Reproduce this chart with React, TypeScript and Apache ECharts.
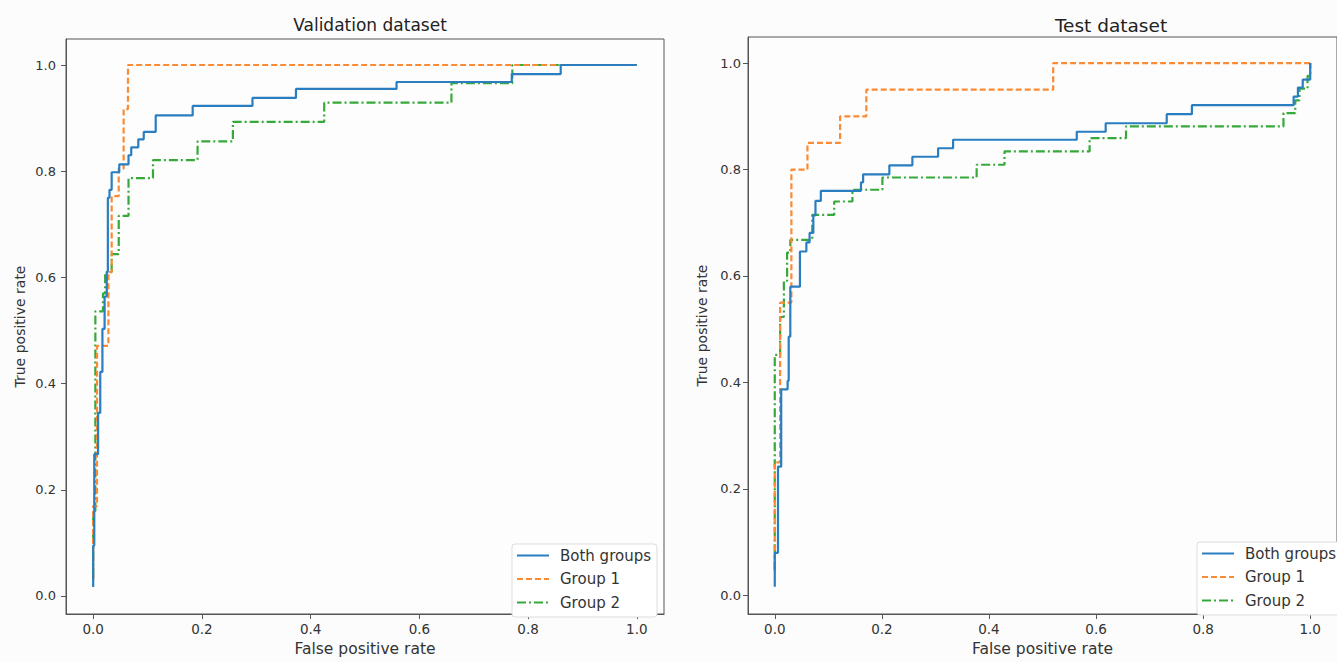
import React, { useEffect, useRef } from "react";
import * as echarts from "echarts";

// ---- data (corner points of the ROC step curves) ----
const seriesNames = ["Both groups", "Group 1", "Group 2"];
const titles = ["Validation dataset", "Test dataset"];
const tickValues = [0, 0.2, 0.4, 0.6, 0.8, 1.0];

const valBoth: number[][] = [
  [0, 0.017], [0, 0.095], [0.002, 0.095], [0.002, 0.267], [0.009, 0.267], [0.009, 0.345],
  [0.013, 0.345], [0.013, 0.422], [0.017, 0.422], [0.017, 0.503], [0.021, 0.503], [0.021, 0.564],
  [0.025, 0.564], [0.025, 0.61], [0.027, 0.61], [0.027, 0.75], [0.03, 0.75], [0.03, 0.765],
  [0.034, 0.765], [0.034, 0.798], [0.048, 0.798], [0.048, 0.813], [0.065, 0.813], [0.065, 0.83],
  [0.07, 0.83], [0.07, 0.845], [0.083, 0.845], [0.083, 0.86], [0.093, 0.86], [0.093, 0.874],
  [0.115, 0.874], [0.115, 0.905], [0.183, 0.905], [0.183, 0.923], [0.293, 0.923], [0.293, 0.938],
  [0.373, 0.938], [0.373, 0.955], [0.558, 0.955], [0.558, 0.968], [0.77, 0.968], [0.77, 0.983],
  [0.86, 0.983], [0.86, 1.0], [1.0, 1.0],
];
const valGroup1: number[][] = [
  [0, 0.03], [0, 0.169], [0.007, 0.169], [0.007, 0.471], [0.028, 0.471], [0.028, 0.61],
  [0.034, 0.61], [0.034, 0.753], [0.047, 0.753], [0.047, 0.805], [0.056, 0.805], [0.056, 0.917],
  [0.064, 0.917], [0.064, 1.0], [1.0, 1.0],
];
const valGroup2: number[][] = [
  [0, 0.035], [0, 0.16], [0.004, 0.16], [0.004, 0.536], [0.018, 0.536], [0.018, 0.57],
  [0.022, 0.57], [0.022, 0.61], [0.034, 0.61], [0.034, 0.644], [0.047, 0.644], [0.047, 0.716],
  [0.065, 0.716], [0.065, 0.787], [0.11, 0.787], [0.11, 0.821], [0.192, 0.821], [0.192, 0.856],
  [0.257, 0.856], [0.257, 0.893], [0.425, 0.893], [0.425, 0.929], [0.659, 0.929], [0.659, 0.966],
  [0.771, 0.966], [0.771, 1.0], [1.0, 1.0],
];

const testBoth: number[][] = [
  [0, 0.016], [0, 0.08], [0.006, 0.08], [0.006, 0.242], [0.012, 0.242], [0.012, 0.387],
  [0.024, 0.387], [0.024, 0.403], [0.026, 0.403], [0.026, 0.486], [0.029, 0.486], [0.029, 0.58],
  [0.047, 0.58], [0.047, 0.646], [0.059, 0.646], [0.059, 0.663], [0.065, 0.663], [0.065, 0.681],
  [0.072, 0.681], [0.072, 0.714], [0.076, 0.714], [0.076, 0.741], [0.086, 0.741], [0.086, 0.76],
  [0.161, 0.76], [0.161, 0.776], [0.165, 0.776], [0.165, 0.791], [0.214, 0.791], [0.214, 0.808],
  [0.257, 0.808], [0.257, 0.824], [0.305, 0.824], [0.305, 0.84], [0.333, 0.84], [0.333, 0.856],
  [0.564, 0.856], [0.564, 0.871], [0.618, 0.871], [0.618, 0.887], [0.732, 0.887], [0.732, 0.904],
  [0.779, 0.904], [0.779, 0.921], [0.969, 0.921], [0.969, 0.937], [0.977, 0.937], [0.977, 0.954],
  [0.986, 0.954], [0.986, 0.969], [1.0, 0.969], [1.0, 1.0],
];
const testGroup1: number[][] = [
  [0, 0.05], [0, 0.25], [0.01, 0.25], [0.01, 0.55], [0.031, 0.55], [0.031, 0.8],
  [0.061, 0.8], [0.061, 0.85], [0.122, 0.85], [0.122, 0.9], [0.171, 0.9], [0.171, 0.95],
  [0.52, 0.95], [0.52, 1.0], [1.0, 1.0],
];
const testGroup2: number[][] = [
  [0, 0.047], [0, 0.452], [0.01, 0.452], [0.01, 0.523], [0.017, 0.523], [0.017, 0.591],
  [0.023, 0.591], [0.023, 0.644], [0.029, 0.644], [0.029, 0.668], [0.07, 0.668], [0.07, 0.715],
  [0.111, 0.715], [0.111, 0.74], [0.145, 0.74], [0.145, 0.762], [0.201, 0.762], [0.201, 0.785],
  [0.377, 0.785], [0.377, 0.809], [0.429, 0.809], [0.429, 0.834], [0.588, 0.834], [0.588, 0.859],
  [0.656, 0.859], [0.656, 0.881], [0.95, 0.881], [0.95, 0.906], [0.972, 0.906], [0.972, 0.93],
  [0.98, 0.93], [0.98, 0.952], [0.995, 0.952], [0.995, 0.976], [1.0, 0.976], [1.0, 1.0],
];

const COLORS = ["#2a7ec0", "#fb8a34", "#36a93a"];
const FONT = "DejaVu Sans";

export default function App() {
  const ref = useRef<HTMLDivElement>(null);
  useEffect(() => {
    if (!ref.current) return;
    const chart = echarts.init(ref.current, undefined, { renderer: "svg" });

    const grids = [
      { left: 66, top: 39, width: 598, height: 583 },
      { left: 748, top: 37, width: 600, height: 585 },
    ];
    const frame = "#555";
    const mkX = (i: number) => ({
      type: "value",
      gridIndex: i,
      min: -0.05,
      max: 1.05,
      name: "False positive rate",
      nameLocation: "middle",
      nameGap: 27,
      nameTextStyle: { fontFamily: FONT, fontSize: 15.5, color: "#333" },
      axisLine: { show: true, onZero: false, lineStyle: { color: frame, width: 1 } },
      axisTick: { show: true, inside: false, length: 5, customValues: tickValues, lineStyle: { color: frame } },
      axisLabel: {
        customValues: tickValues,
        formatter: (v: number) => v.toFixed(1),
        fontFamily: FONT,
        fontSize: 13.5,
        color: "#333",
        margin: 8,
      },
      splitLine: { show: false },
    });
    const mkY = (i: number, min: number, margin: number) => ({
      type: "value",
      gridIndex: i,
      min,
      max: 1.049,
      name: "True positive rate",
      nameLocation: "middle",
      nameGap: 39,
      nameTextStyle: { fontFamily: FONT, fontSize: 14, color: "#333" },
      axisLine: { show: true, onZero: false, lineStyle: { color: frame, width: 1 } },
      axisTick: { show: true, inside: false, length: 5, customValues: tickValues, lineStyle: { color: frame } },
      axisLabel: {
        customValues: tickValues,
        formatter: (v: number) => v.toFixed(1),
        fontFamily: FONT,
        fontSize: 13,
        color: "#333",
        margin,
      },
      splitLine: { show: false },
    });

    const lineStyles = [
      { width: 2.2, type: "solid" },
      { width: 2.2, type: [6, 3] },
      { width: 2.2, type: [9, 3, 2, 3] },
    ];
    const sets = [
      [valBoth, valGroup1, valGroup2],
      [testBoth, testGroup1, testGroup2],
    ];
    const series: any[] = [];
    sets.forEach((set, gi) => {
      set.forEach((d, si) => {
        series.push({
          type: "line",
          name: seriesNames[si],
          xAxisIndex: gi,
          yAxisIndex: gi,
          data: d,
          symbol: "none",
          color: COLORS[si],
          lineStyle: { color: COLORS[si], ...lineStyles[si] },
          z: 10 - si,
        });
      });
    });

    const legendBase = {
      data: seriesNames,
      orient: "vertical",
      itemWidth: 32,
      itemHeight: 14,
      itemGap: 8.5,
      backgroundColor: "#ffffff",
      borderColor: "#dddddd",
      borderWidth: 1,
      borderRadius: 3,
      padding: [4, 6, 7, 4],
      itemStyle: { opacity: 0 },
      textStyle: { fontFamily: FONT, fontSize: 15, color: "#333", padding: [0, 0, 0, 6] },
      selectedMode: false,
    };

    chart.setOption({
      animation: false,
      backgroundColor: "#fcfcfc",
      title: [
        {
          text: titles[0],
          left: 365,
          top: 11,
          textAlign: "center",
          textStyle: { fontFamily: FONT, fontSize: 17, fontWeight: "normal", color: "#222" },
        },
        {
          text: titles[1],
          left: 1106,
          top: 11,
          textAlign: "center",
          textStyle: { fontFamily: FONT, fontSize: 18.5, fontWeight: "normal", color: "#222" },
        },
      ],
      grid: grids.map((g) => ({ ...g, show: true, borderColor: frame, borderWidth: 1, backgroundColor: "#fdfdfd" })),
      xAxis: [mkX(0), mkX(1)],
      yAxis: [mkY(0, -0.034, 10), mkY(1, -0.035, 7)],
      legend: [
        { ...legendBase, left: 512, top: 544 },
        { ...legendBase, left: 1197, top: 542 },
      ],
      series,
    });
    return () => chart.dispose();
  }, []);
  return (
    <div
      ref={ref}
      style={{ position: "fixed", left: 0, top: 0, width: 1337, height: 662 }}
    />
  );
}
